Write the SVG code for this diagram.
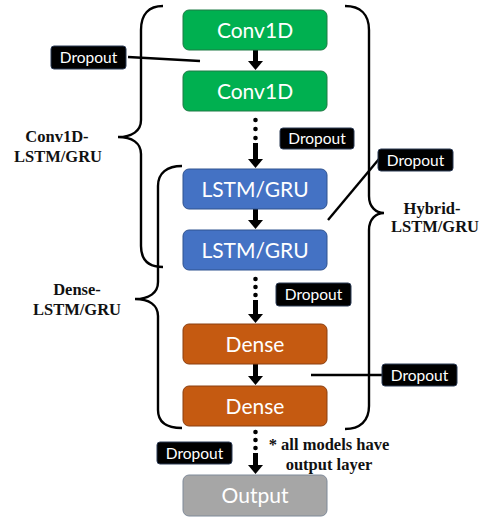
<svg xmlns="http://www.w3.org/2000/svg" width="484" height="520" viewBox="0 0 484 520">
  <defs>
    <style>
      .layer { stroke-width: 1; }
      .conv { fill: #00B050; stroke: #1E7A44; }
      .lstm { fill: #4472C4; stroke: #2F528F; }
      .dense { fill: #C55A11; stroke: #8A3F10; }
      .out { fill: #A6A6A6; stroke: #7F8A99; }
      .ltext { font-family: Lato, "Open Sans", "Liberation Sans", sans-serif; font-size: 21px; fill: #FFFFFF; text-anchor: middle; }
      .drop rect { fill: #000000; stroke: #2B3A55; stroke-width: 1; }
      .drop text { font-family: Lato, "Open Sans", "Liberation Sans", sans-serif; font-size: 15.5px; fill: #FFFFFF; text-anchor: middle; }
      .brace { fill: none; stroke: #000000; stroke-width: 2.4; }
      .lead { fill: none; stroke: #000000; stroke-width: 2.4; }
      .shaft { stroke: #000000; stroke-width: 5; }
      .dot { fill: #000000; }
      .label { font-family: "Liberation Serif", "Times New Roman", serif; font-weight: bold; font-size: 16.5px; fill: #111111; text-anchor: middle; }
    </style>
    <!-- arrowhead base sits on the line end; tip extends 9px further -->
    <marker id="head" viewBox="0 0 9 15" refX="0" refY="7.5" markerWidth="9" markerHeight="15" markerUnits="userSpaceOnUse" orient="auto">
      <path d="M0,0 L9,7.5 L0,15 Z" fill="#000000"/>
    </marker>
  </defs>

  <!-- grouping braces -->
  <g id="braces">
    <path class="brace" d="M163,6 C149,6 141,14 141,30 L141,120 C141,131 132,137 118,137 C132,137 141,143 141,154 L141,246 C141,261 149,267 163,267"/>
    <path class="brace" d="M182,166 C167,166 158,173 158,186 L158,282 C158,293 149,299 135,299 C149,299 158,305 158,316 L158,410 C158,423 167,428 182,428"/>
    <path class="brace" d="M345,6 C360,6 369,14 369,30 L369,196 C369,207 376,213 384,213 C376,213 369,219 369,230 L369,406 C369,421 360,429 345,429"/>
  </g>

  <!-- connectors between layers -->
  <g id="connectors">
    <line class="shaft" x1="255.5" y1="50" x2="255.5" y2="61" marker-end="url(#head)"/>
    <circle class="dot" cx="255.5" cy="120" r="2.3"/>
    <circle class="dot" cx="255.5" cy="129" r="2.3"/>
    <circle class="dot" cx="255.5" cy="138" r="2.3"/>
    <line class="shaft" x1="255.5" y1="143" x2="255.5" y2="159" marker-end="url(#head)"/>
    <line class="shaft" x1="255.5" y1="209" x2="255.5" y2="220" marker-end="url(#head)"/>
    <circle class="dot" cx="255.5" cy="279" r="2.3"/>
    <circle class="dot" cx="255.5" cy="287" r="2.3"/>
    <circle class="dot" cx="255.5" cy="295" r="2.3"/>
    <line class="shaft" x1="255.5" y1="300" x2="255.5" y2="314" marker-end="url(#head)"/>
    <line class="shaft" x1="255.5" y1="364" x2="255.5" y2="376" marker-end="url(#head)"/>
    <circle class="dot" cx="255.5" cy="432" r="2.3"/>
    <circle class="dot" cx="255.5" cy="440" r="2.3"/>
    <circle class="dot" cx="255.5" cy="448" r="2.3"/>
    <line class="shaft" x1="255.5" y1="453" x2="255.5" y2="465" marker-end="url(#head)"/>
    <!-- dropout leader lines -->
    <line class="lead" x1="128" y1="57" x2="200" y2="61"/>
    <line class="lead" x1="379" y1="159" x2="328" y2="220"/>
    <line class="lead" x1="311" y1="375" x2="382" y2="375"/>
  </g>

  <!-- layers -->
  <g id="conv1">
    <rect class="layer conv" x="183" y="10" width="144" height="40" rx="6"/>
    <text class="ltext" x="255" y="37.5">Conv1D</text>
  </g>
  <g id="conv2">
    <rect class="layer conv" x="183" y="71" width="144" height="40" rx="6"/>
    <text class="ltext" x="255" y="98.5">Conv1D</text>
  </g>
  <g id="lstm1">
    <rect class="layer lstm" x="183" y="169" width="144" height="40" rx="6"/>
    <text class="ltext" x="255" y="196.5">LSTM/GRU</text>
  </g>
  <g id="lstm2">
    <rect class="layer lstm" x="183" y="230" width="144" height="40" rx="6"/>
    <text class="ltext" x="255" y="257.5">LSTM/GRU</text>
  </g>
  <g id="dense1">
    <rect class="layer dense" x="183" y="324" width="144" height="40" rx="6"/>
    <text class="ltext" x="255" y="351.5">Dense</text>
  </g>
  <g id="dense2">
    <rect class="layer dense" x="183" y="386" width="144" height="40" rx="6"/>
    <text class="ltext" x="255" y="413.5">Dense</text>
  </g>
  <g id="output">
    <rect class="layer out" x="183" y="475" width="144" height="41" rx="6"/>
    <text class="ltext" x="255" y="503">Output</text>
  </g>

  <!-- dropout tags -->
  <g id="dropout1" class="drop">
    <rect x="51" y="46" width="75" height="23" rx="3"/>
    <text x="88.5" y="63">Dropout</text>
  </g>
  <g id="dropout2" class="drop">
    <rect x="280" y="128" width="74" height="21" rx="3"/>
    <text x="317" y="144">Dropout</text>
  </g>
  <g id="dropout3" class="drop">
    <rect x="378" y="149" width="75" height="22" rx="3"/>
    <text x="415.5" y="165.5">Dropout</text>
  </g>
  <g id="dropout4" class="drop">
    <rect x="276" y="283" width="75" height="23" rx="3"/>
    <text x="313.5" y="300">Dropout</text>
  </g>
  <g id="dropout5" class="drop">
    <rect x="382" y="364" width="75" height="22" rx="3"/>
    <text x="419.5" y="380.5">Dropout</text>
  </g>
  <g id="dropout6" class="drop">
    <rect x="157" y="442" width="75" height="22" rx="3"/>
    <text x="194.5" y="458.5">Dropout</text>
  </g>

  <!-- group labels -->
  <g id="label-conv">
    <text class="label" x="57" y="142">Conv1D-</text>
    <text class="label" x="58" y="162">LSTM/GRU</text>
  </g>
  <g id="label-dense">
    <text class="label" x="77" y="295">Dense-</text>
    <text class="label" x="77" y="315">LSTM/GRU</text>
  </g>
  <g id="label-hybrid">
    <text class="label" x="432" y="214">Hybrid-</text>
    <text class="label" x="435" y="232">LSTM/GRU</text>
  </g>
  <g id="note">
    <text class="label" x="329" y="450">* all models have</text>
    <text class="label" x="329" y="470">output layer</text>
  </g>
</svg>
